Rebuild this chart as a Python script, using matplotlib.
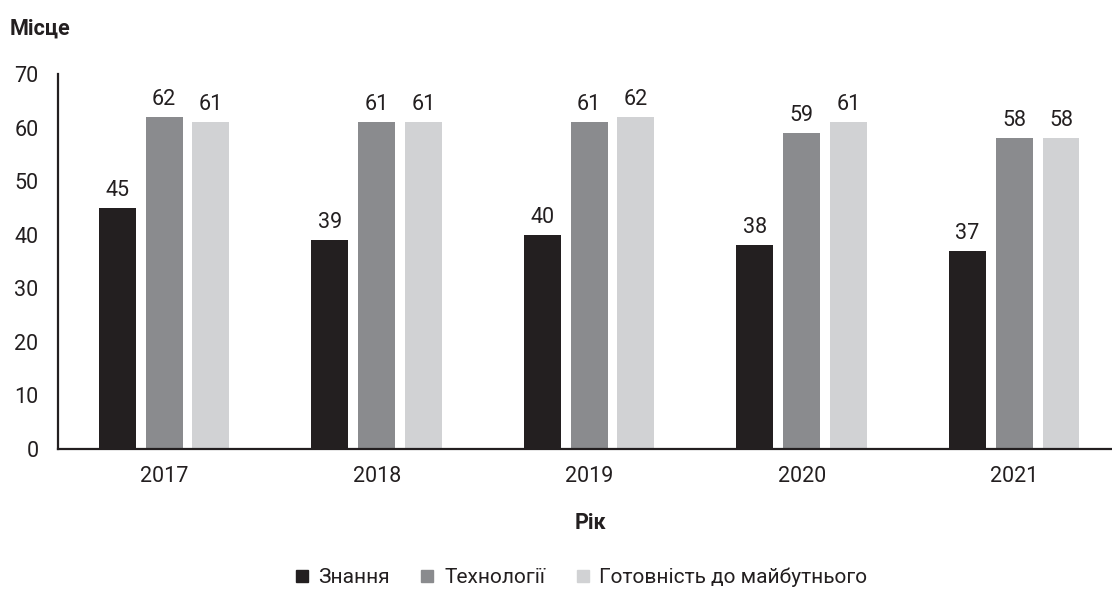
import numpy as np
import matplotlib.pyplot as plt
from matplotlib.lines import Line2D

plt.rcParams['font.family'] = ['Roboto', 'DejaVu Sans']

years = ['2017', '2018', '2019', '2020', '2021']
knowledge = [45, 39, 40, 38, 37]
technology = [62, 61, 61, 59, 58]
readiness = [61, 61, 62, 61, 58]

series_names = ['Знання', 'Технології', 'Готовність до майбутнього']
colors = ['#231f20', '#8a8b8e', '#d1d2d4']

fig = plt.figure(figsize=(11.12, 5.89), dpi=100)
ax = fig.add_axes([0.052, 0.2377, 0.948, 0.6366])

x = np.arange(len(years))
width = 0.174
step = 0.22

for i, (vals, col) in enumerate(zip([knowledge, technology, readiness], colors)):
    pos = x + (i - 1) * step
    ax.bar(pos, vals, width=width, color=col)
    for p, v in zip(pos, vals):
        ax.text(p, v + 1.3, str(v), ha='center', va='bottom', fontsize=15.5, color='#231f20')

ax.set_xlim(-0.5, 4.46)
ax.set_ylim(0, 70)
ax.set_yticks(range(0, 71, 10))
ax.set_xticks(x)
ax.set_xticklabels(years)
ax.tick_params(axis='both', length=0, labelsize=15.5, colors='#231f20')
ax.tick_params(axis='x', pad=12)
ax.tick_params(axis='y', pad=14)
for s in ['top', 'right']:
    ax.spines[s].set_visible(False)
for s in ['left', 'bottom']:
    ax.spines[s].set_linewidth(1.6)
    ax.spines[s].set_color('#231f20')

fig.text(0.009, 0.952, 'Місце', fontsize=15.5, fontweight='bold', va='center', ha='left', color='#231f20')
fig.text(0.531, 0.112, 'Рік', fontsize=15.5, fontweight='bold', va='center', ha='center', color='#231f20')

handles = [Line2D([], [], marker='s', linestyle='none', markersize=8, color=c) for c in colors]
fig.legend(handles, series_names, loc='center', bbox_to_anchor=(0.521, 0.02), ncol=3,
           frameon=False, fontsize=15, handletextpad=0.3, columnspacing=1.3,
           handlelength=1.0, labelcolor='#231f20')

fig.savefig('out.png', dpi=100)
